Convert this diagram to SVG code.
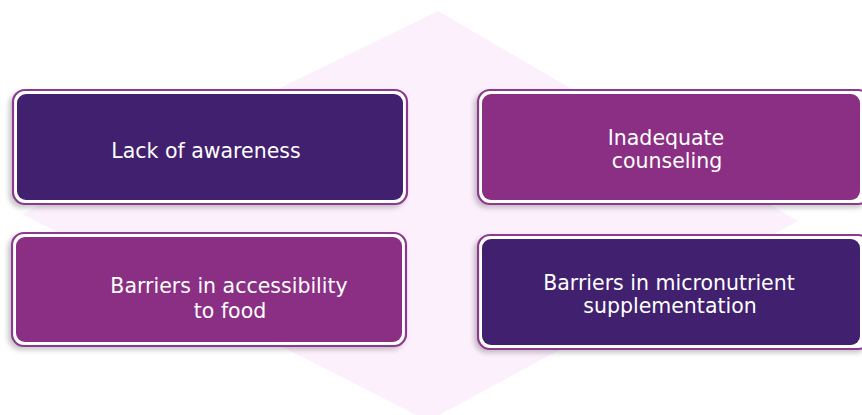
<svg xmlns="http://www.w3.org/2000/svg" width="862" height="415" viewBox="0 0 862 415">
  <style>
    .outer { fill: #ffffff; stroke: #8B3A8E; stroke-width: 2.2; }
    .dark { fill: #41206F; }
    .mag { fill: #8A2F84; }
    .lbl { font-family: "DejaVu Sans", "Liberation Sans", sans-serif; font-size: 20.5px; fill: #ffffff; text-anchor: middle; }
  </style>
  <defs>
    <filter id="sh" x="-10%" y="-20%" width="120%" height="140%">
      <feDropShadow dx="-3" dy="3" stdDeviation="2.5" flood-color="#000000" flood-opacity="0.22"/>
    </filter>
  </defs>
  <rect width="862" height="415" fill="#ffffff"/>
  <polygon id="backdrop" points="438,11 798,221 428,421 22,214" fill="#FDF0FD"/>

  <g id="node-lack-of-awareness">
    <rect class="outer" x="13" y="90" width="394" height="114" rx="12" filter="url(#sh)"/>
    <rect class="dark" x="17" y="94" width="386" height="106" rx="9"/>
    <text class="lbl" x="206" y="158">Lack of awareness</text>
  </g>

  <g id="node-inadequate-counseling">
    <rect class="outer" x="478" y="90" width="392" height="114" rx="12" filter="url(#sh)"/>
    <rect class="mag" x="482" y="94" width="378" height="106" rx="9"/>
    <text class="lbl" x="666" y="145">Inadequate</text>
    <text class="lbl" x="667" y="168">counseling</text>
  </g>

  <g id="node-barriers-food">
    <rect class="outer" x="12" y="233" width="394" height="113" rx="12" filter="url(#sh)"/>
    <rect class="mag" x="16" y="237" width="386" height="105" rx="9"/>
    <text class="lbl" x="229" y="293">Barriers in accessibility</text>
    <text class="lbl" x="230" y="318">to food</text>
  </g>

  <g id="node-barriers-micronutrient">
    <rect class="outer" x="478" y="235" width="392" height="114" rx="12" filter="url(#sh)"/>
    <rect class="dark" x="482" y="239" width="378" height="106" rx="9"/>
    <text class="lbl" x="669" y="290">Barriers in micronutrient</text>
    <text class="lbl" x="670" y="313">supplementation</text>
  </g>

  <g id="connectors"></g>
</svg>
